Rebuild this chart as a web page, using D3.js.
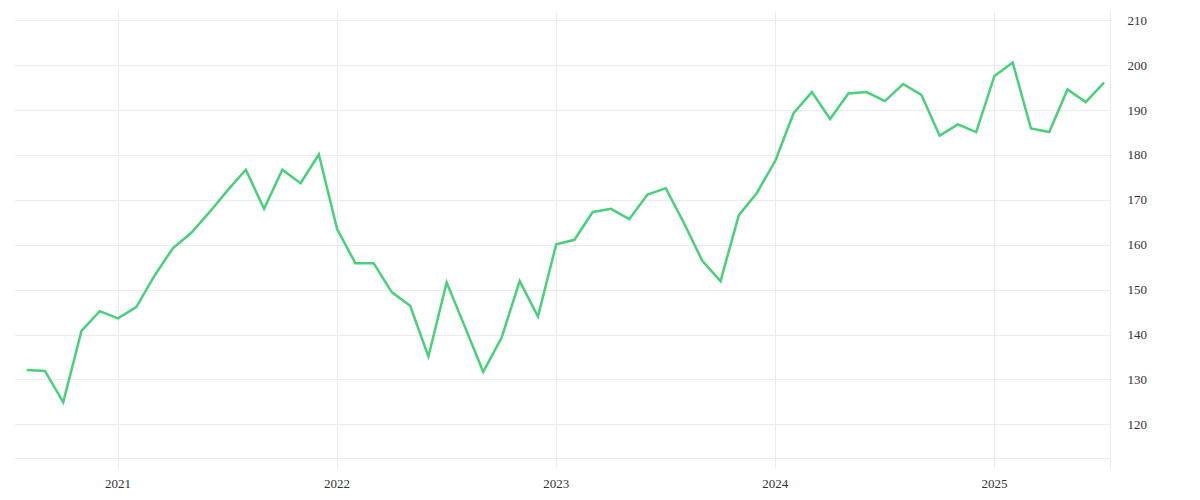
<!DOCTYPE html>
<html>
<head>
<meta charset="utf-8">
<script src="https://cdn.jsdelivr.net/npm/d3@7"></script>
<style>
  html, body { margin: 0; padding: 0; background: #fff; }
  svg { display: block; }
  text { font-family: "Liberation Serif", "DejaVu Serif", serif; font-size: 13px; fill: #333; }
</style>
</head>
<body>
<svg id="chart" width="1200" height="500"></svg>
<script>
// Monthly values, Aug 2020 .. Jul 2025
const startYear = 2020;
const startMonth = 7; // 0-based: August
const values = [
  132.1, 131.9, 124.9, 140.8, 145.2,
  143.6, 146.1, 153.1, 159.2, 162.6, 167.2, 172.1, 176.7, 168.0, 176.7, 173.7, 180.1,
  163.5, 155.9, 155.9, 149.4, 146.4, 135.1, 151.6, 141.7, 131.7, 139.2, 151.9, 144.0,
  160.1, 161.1, 167.3, 168.0, 165.7, 171.2, 172.6, 164.8, 156.4, 151.9, 166.6, 171.6,
  178.7, 189.3, 194.0, 188.0, 193.7, 194.0, 192.0, 195.8, 193.4, 184.3, 186.8, 185.1,
  197.6, 200.6, 185.9, 185.1, 194.6, 191.8, 196.1
];
const yTicks = [120, 130, 140, 150, 160, 170, 180, 190, 200, 210];
const yearLabels = ["2021", "2022", "2023", "2024", "2025"];

const data = values.map((v, i) => ({
  i,
  date: new Date(startYear, startMonth + i, 1),
  v
}));
const yearIdx = yearLabels.map(y => data.findIndex(d => d.date.getFullYear() === +y && d.date.getMonth() === 0));

const plotLeft = 15, plotRight = 1110.5, plotTop = 12, plotBottom = 458.5;

const x = d3.scaleLinear().domain([0, values.length - 1]).range([26.7, 1104]);
const y = d3.scaleLinear().domain([120, 210]).range([424.3, 20.3]);

const svg = d3.select("#chart");
const grid = "#ebebeb";

// horizontal grid
svg.append("g").selectAll("line").data(yTicks).join("line")
  .attr("x1", plotLeft).attr("x2", plotRight)
  .attr("y1", d => Math.round(y(d)) + 0.5).attr("y2", d => Math.round(y(d)) + 0.5)
  .attr("stroke", grid).attr("stroke-width", 1);

// bottom line
svg.append("line")
  .attr("x1", plotLeft).attr("x2", plotRight)
  .attr("y1", plotBottom).attr("y2", plotBottom)
  .attr("stroke", grid).attr("stroke-width", 1);

// vertical grid at year starts
svg.append("g").selectAll("line").data(yearIdx).join("line")
  .attr("x1", d => Math.round(x(d)) + 0.5).attr("x2", d => Math.round(x(d)) + 0.5)
  .attr("y1", plotTop).attr("y2", 468)
  .attr("stroke", grid).attr("stroke-width", 1);

// right border
svg.append("line")
  .attr("x1", plotRight).attr("x2", plotRight)
  .attr("y1", plotTop).attr("y2", 468)
  .attr("stroke", grid).attr("stroke-width", 1);

// y labels (right)
svg.append("g").selectAll("text").data(yTicks).join("text")
  .attr("x", 1127.5).attr("y", d => y(d) + 1.5)
  .attr("dominant-baseline", "middle")
  .attr("text-anchor", "start")
  .text(d => d);

// x labels
svg.append("g").selectAll("text").data(yearIdx).join("text")
  .attr("x", d => x(d)).attr("y", 488)
  .attr("text-anchor", "middle")
  .text((d, k) => yearLabels[k]);

// line
const line = d3.line().x(d => x(d.i)).y(d => y(d.v));
svg.append("path")
  .datum(data)
  .attr("d", line)
  .attr("fill", "none")
  .attr("stroke", "#48d07a")
  .attr("stroke-width", 2.5)
  .attr("stroke-linejoin", "miter")
  .attr("stroke-linecap", "butt");
</script>
</body>
</html>
